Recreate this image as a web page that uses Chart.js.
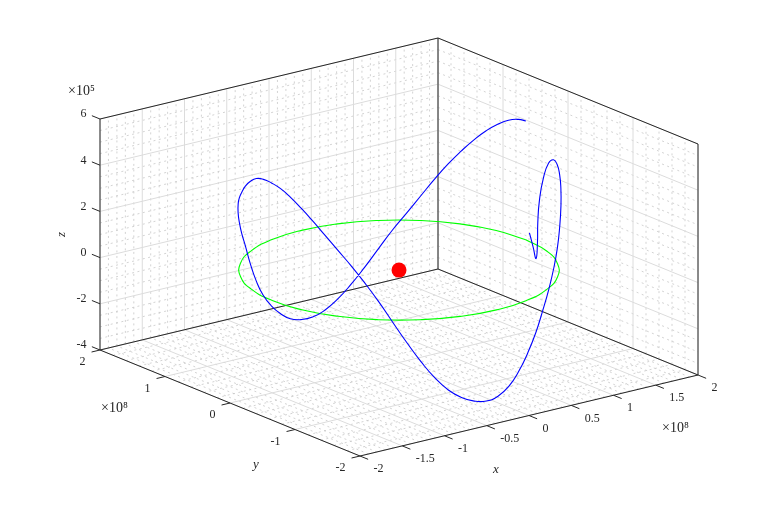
<!DOCTYPE html>
<html>
<head>
<meta charset="utf-8">
<title>Orbit</title>
<script src="https://cdn.jsdelivr.net/npm/chart.js@4"></script>
<style>
  html, body { margin: 0; padding: 0; background: #fff; }
  #wrap { width: 772px; height: 513px; }
</style>
</head>
<body>
<div id="wrap"><canvas id="orbit-chart" width="772" height="513"></canvas></div>
<script>
// axis ticks (x, y in 1e8, z in 1e5)
const xTicks = [-2, -1.5, -1, -0.5, 0, 0.5, 1, 1.5, 2];
const yTicks = [-2, -1, 0, 1, 2];
const zTicks = [-4, -2, 0, 2, 4, 6];
const xTickLabels = ['-2', '-1.5', '-1', '-0.5', '0', '0.5', '1', '1.5', '2'];
const yTickLabels = ['-2', '-1', '0', '1', '2'];
const zTickLabels = ['-4', '-2', '0', '2', '4', '6'];

// blue trajectory
const pathX = [1.519, 1.516, 1.512, 1.510, 1.510, 1.506, 1.494,
  1.467, 1.428, 1.377, 1.316, 1.245, 1.165, 1.075, 0.978, 0.873, 0.762, 0.644, 0.522, 0.396, 0.267, 0.136, 0.004,
  -0.128, -0.259, -0.388, -0.514, -0.636, -0.754, -0.865, -0.970, -1.067, -1.157, -1.237, -1.308, -1.369, -1.420, -1.459, -1.488, -1.505, -1.511,
  -1.505, -1.488, -1.459, -1.420, -1.369, -1.308, -1.237, -1.157, -1.067, -0.970, -0.865, -0.754, -0.636, -0.514, -0.388, -0.259, -0.128, 0.004,
  0.136, 0.267, 0.396, 0.522, 0.644, 0.762, 0.873, 0.978, 1.075, 1.165, 1.245, 1.316, 1.377, 1.428, 1.467, 1.496, 1.513, 1.519];
const pathY = [-0.032, -0.093, -0.143, -0.167, -0.172, -0.203, -0.279,
  -0.395, -0.521, -0.643, -0.761, -0.872, -0.977, -1.074, -1.164, -1.244, -1.315, -1.376, -1.427, -1.466, -1.495, -1.512, -1.518,
  -1.512, -1.495, -1.466, -1.427, -1.376, -1.315, -1.244, -1.164, -1.074, -0.977, -0.872, -0.761, -0.643, -0.521, -0.395, -0.266, -0.135, -0.003,
  0.129, 0.260, 0.389, 0.515, 0.637, 0.755, 0.866, 0.971, 1.068, 1.158, 1.238, 1.309, 1.370, 1.421, 1.460, 1.489, 1.506, 1.512,
  1.506, 1.489, 1.460, 1.421, 1.370, 1.309, 1.238, 1.158, 1.068, 0.971, 0.866, 0.755, 0.637, 0.515, 0.389, 0.260, 0.129, 0.023];
const pathZ = [0.32, -0.23, -0.66, 0.03, 0.91, 1.94, 2.99,
  3.80, 4.12, 4.10, 3.84, 3.44, 2.88, 2.14, 1.42, 0.72, 0.02, -0.72, -1.52, -2.25, -2.90, -3.42, -3.72,
  -3.82, -3.73, -3.49, -3.10, -2.52, -1.78, -0.95, -0.07, 0.80, 1.58, 2.27, 2.87, 3.44, 3.96, 4.40, 4.76, 5.00, 5.10,
  5.10, 4.97, 4.68, 4.30, 3.85, 3.42, 2.97, 2.38, 1.76, 1.10, 0.38, -0.55, -1.48, -2.27, -2.88, -3.36, -3.72, -3.88,
  -3.88, -3.68, -3.28, -2.72, -2.03, -1.25, -0.46, 0.27, 1.03, 1.79, 2.50, 3.13, 3.70, 4.19, 4.58, 4.88, 5.05, 5.10];

// green orbit in the z = 0 plane
const ringX = [1.5, 1.449, 1.299, 1.061, 0.75, 0.388, 0, -0.388, -0.75, -1.061, -1.299, -1.449,
  -1.5, -1.449, -1.299, -1.061, -0.75, -0.388, 0, 0.388, 0.75, 1.061, 1.299, 1.449, 1.5];
const ringY = [0, 0.388, 0.75, 1.061, 1.299, 1.449, 1.5, 1.449, 1.299, 1.061, 0.75, 0.388,
  0, -0.388, -0.75, -1.061, -1.299, -1.449, -1.5, -1.449, -1.299, -1.061, -0.75, -0.388, 0];
const ringZ = [0, 0, 0, 0, 0, 0, 0, 0, 0, 0, 0, 0, 0, 0, 0, 0, 0, 0, 0, 0, 0, 0, 0, 0, 0];

// red dot
const sunX = [0];
const sunY = [0];
const sunZ = [0];

const inkColor = '#262626';

// fixed view of the box, orthographic
function project(x, y, z) {
    return {
        x: 360 + (x + 2) * 84.5 - (y + 2) * 65,
        y: 456 - (x + 2) * 20.25 - (y + 2) * 26.5 - (z + 4) * 23.1
    };
}

function minorValues(ticks, parts) {
    const out = [];
    for (let i = 0; i < ticks.length - 1; i++) {
        const step = (ticks[i + 1] - ticks[i]) / parts;
        for (let k = 1; k < parts; k++) out.push(ticks[i] + k * step);
    }
    return out;
}

// one dataset holds many segments, split by gaps
function segments(list) {
    const pts = [];
    list.forEach(function (s) {
        pts.push(project(s[0], s[1], s[2]));
        pts.push(project(s[3], s[4], s[5]));
        pts.push({ x: NaN, y: NaN });
    });
    return pts;
}

function gridSegments(xs, ys, zs) {
    const list = [];
    xs.forEach(function (v) {
        list.push([v, 2, -4, v, 2, 6]);     // back left wall
        list.push([v, -2, -4, v, 2, -4]);   // floor
    });
    ys.forEach(function (v) {
        list.push([2, v, -4, 2, v, 6]);     // back right wall
        list.push([-2, v, -4, 2, v, -4]);   // floor
    });
    zs.forEach(function (v) {
        list.push([-2, 2, v, 2, 2, v]);
        list.push([2, 2, v, 2, -2, v]);
    });
    return segments(list);
}

const boxLines = [
    [-2, 2, -4, -2, 2, 6], [2, 2, -4, 2, 2, 6], [2, -2, -4, 2, -2, 6],
    [-2, 2, 6, 2, 2, 6], [2, 2, 6, 2, -2, 6],
    [-2, 2, -4, 2, 2, -4], [2, 2, -4, 2, -2, -4],
    [-2, 2, -4, -2, -2, -4], [-2, -2, -4, 2, -2, -4]
];

// tick marks point out of the box
const tickLen = 0.125;
function tickLines() {
    const list = [];
    xTicks.forEach(function (v) { list.push([v, -2, -4, v, -2 - tickLen, -4]); });
    yTicks.forEach(function (v) { list.push([-2, v, -4, -2 - tickLen * 0.8, v, -4]); });
    zTicks.forEach(function (v) { list.push([-2, 2, v, -2, 2 + tickLen, v]); });
    return list;
}

function path3d(xs, ys, zs) {
    return xs.map(function (v, i) { return project(v, ys[i], zs[i]); });
}

const axisText = {
    id: 'axisText',
    afterDatasetsDraw(chart) {
        const ctx = chart.ctx;
        const sx = chart.scales.x, sy = chart.scales.y;
        function put(text, p, dx, dy, align, font, rot) {
            ctx.save();
            ctx.translate(sx.getPixelForValue(p.x) + dx, sy.getPixelForValue(p.y) + dy);
            if (rot) ctx.rotate(rot);
            ctx.fillStyle = inkColor;
            ctx.font = font;
            ctx.textAlign = align;
            ctx.textBaseline = 'middle';
            ctx.fillText(text, 0, 0);
            ctx.restore();
        }
        const tickFont = '12px "Liberation Serif"';
        const expFont = '14px "Liberation Serif"';
        const nameFont = 'italic 13px "Liberation Serif"';
        xTicks.forEach(function (v, i) {
            put(xTickLabels[i], project(v, -2, -4), 13.5, 13, 'left', tickFont);
        });
        yTicks.forEach(function (v, i) {
            put(yTickLabels[i], project(-2, v, -4), -14.5, 12, 'right', tickFont);
        });
        zTicks.forEach(function (v, i) {
            put(zTickLabels[i], project(-2, 2, v), -13.5, -4.7, 'right', tickFont);
        });
        put('×10⁵', project(-2, 2, 6), -32, -27.5, 'left', expFont);
        put('×10⁸', project(-2, 0, -4), -129, 5.5, 'left', expFont);
        put('×10⁸', project(2, -2, -4), -36, 53.5, 'left', expFont);
        put('x', project(0, -2, -4), -33, 54.5, 'center', nameFont);
        put('y', project(-2, 0, -4), 26, 62, 'center', nameFont);
        put('z', project(-2, 2, 1), -38, 0, 'center', nameFont, -Math.PI / 2);
    }
};

const orbitChart = new Chart(document.getElementById('orbit-chart').getContext('2d'), {
    type: 'scatter',
    data: {
        datasets: [
            {
                label: 'Sun',
                data: path3d(sunX, sunY, sunZ),
                showLine: false,
                pointRadius: 7.5,
                pointBackgroundColor: '#ff0000',
                pointBorderWidth: 0
            },
            {
                label: 'Path',
                data: path3d(pathX, pathY, pathZ),
                showLine: true,
                borderColor: '#0000ff',
                borderWidth: 1.1,
                tension: 0.5,
                pointRadius: 0
            },
            {
                label: 'Ring',
                data: path3d(ringX, ringY, ringZ),
                showLine: true,
                borderColor: '#00ff00',
                borderWidth: 1.1,
                tension: 0.5,
                pointRadius: 0
            },
            {
                label: 'Box',
                data: segments(boxLines.concat(tickLines())),
                showLine: true,
                borderColor: inkColor,
                borderWidth: 1,
                tension: 0,
                pointRadius: 0
            },
            {
                label: 'Major grid',
                data: gridSegments(xTicks, yTicks, zTicks),
                showLine: true,
                borderColor: '#dcdcdc',
                borderWidth: 1,
                tension: 0,
                pointRadius: 0
            },
            {
                label: 'Minor grid',
                data: gridSegments(minorValues(xTicks, 5), minorValues(yTicks, 5), minorValues(zTicks, 4)),
                showLine: true,
                borderColor: '#c8c8c8',
                borderWidth: 0.8,
                borderDash: [2, 3.5],
                tension: 0,
                pointRadius: 0
            }
        ]
    },
    options: {
        responsive: false,
        animation: false,
        events: [],
        layout: { padding: 0, autoPadding: false },
        scales: {
            x: { type: 'linear', display: false, min: 0, max: 772 },
            y: { type: 'linear', display: false, min: 0, max: 513, reverse: true }
        },
        plugins: {
            legend: { display: false },
            tooltip: { enabled: false }
        }
    },
    plugins: [axisText]
});
</script>
</body>
</html>
